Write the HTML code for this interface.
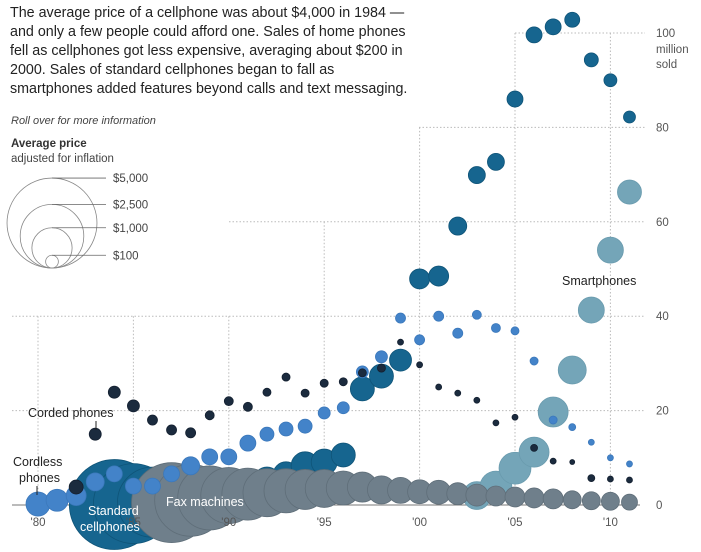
<!DOCTYPE html>
<html><head><meta charset="utf-8"><style>
body{margin:0;background:#fff;font-family:"Liberation Sans",Arial,sans-serif;}
#wrap{position:relative;width:701px;height:552px;overflow:hidden;}
#intro{position:absolute;left:10px;top:4px;font-size:14.3px;line-height:19px;color:#222;margin:0;white-space:nowrap;}
</style></head><body>
<div id="wrap">
<p id="intro">The average price of a cellphone was about $4,000 in 1984 —<br>and only a few people could afford one. Sales of home phones<br>fell as cellphones got less expensive, averaging about $200 in<br>2000. Sales of standard cellphones began to fall as<br>smartphones added features beyond calls and text messaging.</p>
<svg id="chart" width="701" height="552" style="position:absolute;left:0;top:0"></svg>
</div>
<script>
const years = [1980,1981,1982,1983,1984,1985,1986,1987,1988,1989,1990,1991,1992,1993,1994,1995,1996,1997,1998,1999,2000,2001,2002,2003,2004,2005,2006,2007,2008,2009,2010,2011];
const xTickLabels = ["'80","'85","'90","'95","'00","'05","'10"];
const xTickYears = [1980,1985,1990,1995,2000,2005,2010];
const yTicks = [0,20,40,60,80,100];
const legendPrices = [5000,2500,1000,100];
const legendLabels = ["$5,000","$2,500","$1,000","$100"];

const smartStart = 2003;
const smartValues = [2,3.8,7.8,11.2,19.7,28.6,41.3,54,66.3];
const smartPrices = [480,630,630,555,555,484,417,417,356];

const cellStart = 1984;
const cellValues = [0.1,0.3,0.6,1,1.5,2,3,4,5.3,6.4,8.3,9.1,10.6,24.6,27.3,30.7,47.9,48.5,59.1,69.9,72.7,86,99.6,101.3,102.8,94.3,90,82.2];
const cellPrices = [5000,3950,3030,2220,1540,990,715,555,417,417,484,417,356,356,356,299,247,247,200,178,178,158,158,158,139,121,104,89];

const faxStart = 1987;
const faxValues = [0.5,1,1.5,2,2.3,2.6,3,3.3,3.5,3.6,3.8,3.2,3.1,2.8,2.7,2.4,2.1,1.9,1.7,1.5,1.3,1.1,0.9,0.8,0.6];
const faxPrices = [3950,3200,2530,1940,1670,1420,1200,990,890,715,555,484,417,356,356,299,299,247,247,247,247,200,200,200,158];

const cordlessStart = 1980;
const cordlessValues = [0.2,1,2,4.9,6.6,4,4,6.6,8.3,10.2,10.2,13.1,15,16.1,16.7,19.5,20.6,28.2,31.4,39.6,35,40,36.4,40.3,37.5,36.9,30.5,18,16.5,13.3,10,8.7];
const cordlessPrices = [356,299,247,200,158,158,158,158,200,158,158,158,121,121,121,89,89,89,89,62,62,62,62,50,50,40,40,40,30,22,22,22];

const cordedStart = 1982;
const cordedValues = [3.8,15,23.9,21,18,15.9,15.3,19,22,20.8,23.9,27.1,23.7,25.8,26.1,28,29,34.5,29.7,25,23.7,22.2,17.4,18.6,12.1,9.3,9.1,5.7,5.5,5.3];
const cordedPrices = [121,89,89,89,62,62,62,50,50,50,40,40,40,40,40,40,40,22,22,22,22,22,22,22,30,22,15,30,22,22];

const NS='http://www.w3.org/2000/svg';
const svg=document.getElementById('chart');
const X0=38, PXY=19.08, Y0=505, PXV=4.72;
function xs(yr){return X0+(yr-1980)*PXY;}
function ys(v){return Y0-v*PXV;}
function rs(p){return 0.636*Math.sqrt(p);}
function mk(tag,attrs){const e=document.createElementNS(NS,tag);for(const k in attrs)e.setAttribute(k,attrs[k]);svg.appendChild(e);return e;}
function txt(s,x,y,attrs){const e=mk('text',Object.assign({x:x,y:y,'font-family':'Liberation Sans, Arial, sans-serif','font-size':12,fill:'#444'},attrs||{}));e.textContent=s;return e;}

const hStart={20:12,40:12,60:229,80:419,100:515};
[20,40,60,80,100].forEach(v=>{
  const l=mk('line',{x1:hStart[v],x2:645,y1:ys(v),y2:ys(v),stroke:'#bbb','stroke-dasharray':'1.5,2'});
  
  
});
const vTop={1980:40,1985:40,1990:40,1995:60,2000:80,2005:100,2010:100};
xTickYears.forEach(yr=>{
  const l=mk('line',{x1:xs(yr),x2:xs(yr),y1:ys(vTop[yr]),y2:Y0,stroke:'#bbb','stroke-dasharray':'1.5,2'});
  
  
});
const ax=mk('line',{x1:12,x2:640,y1:Y0,y2:Y0,stroke:'#777','stroke-width':1});



function series(name,start,vals,prices,fill,stroke){
  const g=mk('g',{});
  
  
  vals.forEach((v,i)=>{
    const c=document.createElementNS(NS,'circle');
    c.setAttribute('cx',xs(start+i));c.setAttribute('cy',ys(v));c.setAttribute('r',rs(prices[i]));
    c.setAttribute('fill',fill);c.setAttribute('stroke',stroke);c.setAttribute('stroke-width',0.8);
    
    
    g.appendChild(c);
  });
}
series('smartphones',smartStart,smartValues,smartPrices,'#74a5b8','#6a9bae');
series('standard-cellphones',cellStart,cellValues,cellPrices,'#16658f','#0f5478');
series('fax-machines',faxStart,faxValues,faxPrices,'#6f7f8b','#5f6e79');
series('cordless-phones',cordlessStart,cordlessValues,cordlessPrices,'#4383c9','#3b78bb');
series('corded-phones',cordedStart,cordedValues,cordedPrices,'#1b2b3e','#142030');

xTickYears.forEach((yr,i)=>{
  const t=txt(xTickLabels[i],xs(yr),526,{'text-anchor':'middle','font-size':11.5,fill:'#555'});
  
  
});
yTicks.forEach(v=>{
  const t=txt(String(v),656,ys(v)+4,{'font-size':11.5,fill:'#555'});
  
  
});
const u1=txt('million',656,53,{'font-size':11.5,fill:'#555'});


const u2=txt('sold',656,68,{'font-size':11.5,fill:'#555'});



const lbls=[['Corded phones',28,417,'#222','label-corded-phones'],['Cordless',13,466,'#222','label-cordless-1'],['phones',19,482,'#222','label-cordless-2'],
['Fax machines',166,506,'#fff','label-fax-machines'],['Standard',88,515,'#fff','label-standard-1'],['cellphones',80,531,'#fff','label-standard-2'],['Smartphones',562,285,'#222','label-smartphones']];
lbls.forEach(a=>{const t=txt(a[0],a[1],a[2],{fill:a[3],'font-size':12.5});
  
  });
const p1=mk('line',{x1:96,x2:96,y1:421,y2:430,stroke:'#222'});


const p2=mk('line',{x1:37,x2:37,y1:486,y2:495,stroke:'#222'});



const r1=txt('Roll over for more information',11,124,{'font-style':'italic','font-size':11,fill:'#444'});


const r2=txt('Average price',11,147,{'font-weight':'bold','font-size':11.5,fill:'#333'});


const r3=txt('adjusted for inflation',11,162,{'font-size':11.5,fill:'#444'});


legendPrices.forEach((p,i)=>{
  const r=rs(p), cx=52, cy=268-r;
  const c=mk('circle',{cx:cx,cy:cy,r:r,fill:'none',stroke:'#888','stroke-width':0.8});
  
  
  const l=mk('line',{x1:cx,x2:106,y1:268-2*r,y2:268-2*r,stroke:'#666','stroke-width':0.8});
  
  
  const t=txt(legendLabels[i],113,268-2*r+4,{'font-size':11.5,fill:'#444'});
  
  
});
</script>
</body></html>
